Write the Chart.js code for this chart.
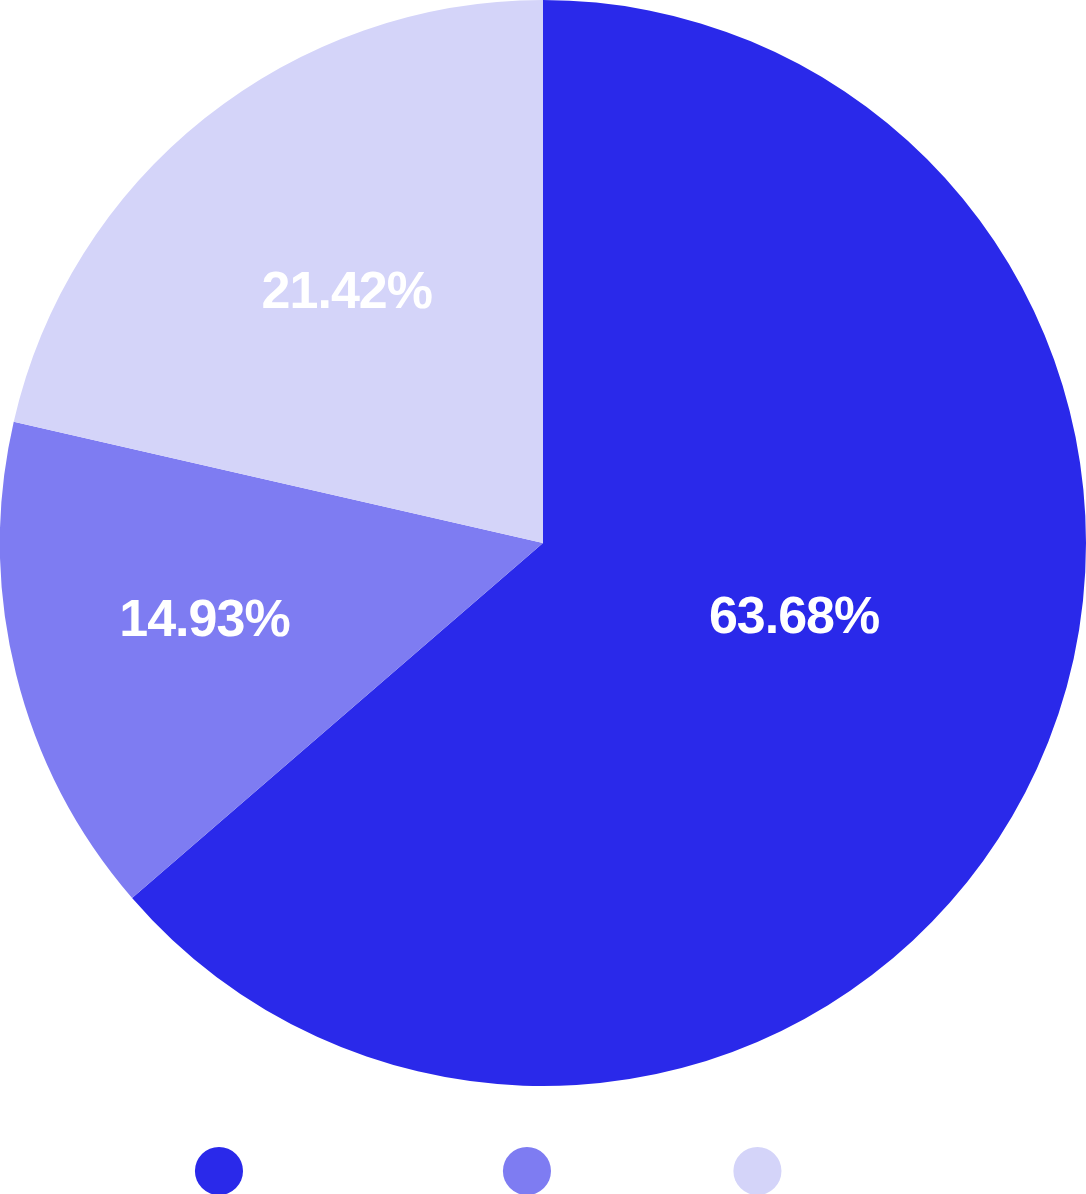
<!DOCTYPE html>
<html>
<head>
<meta charset="utf-8">
<script src="https://cdn.jsdelivr.net/npm/chart.js@4.4.1/dist/chart.umd.min.js"></script>
<style>
  html, body { margin: 0; padding: 0; background: #fff; }
  #wrap { width: 1086px; height: 1194px; }
</style>
</head>
<body>
<div id="wrap"><canvas id="my-chart"></canvas></div>
<script>
const categories = ['Direct online', 'Display', 'Social'];
const shares = [63.68, 14.93, 21.42];
const sliceColors = ['#2a29ea', '#7e7cf2', '#d4d4f9'];

// where each percentage sits inside its slice
const labelRadius = [0.483, 0.64, 0.585];
const labelAngleShift = [-7.8, 0.9, 0.4];

const sliceLabels = {
  id: 'sliceLabels',
  afterDatasetsDraw(chart) {
    const ctx = chart.ctx;
    const arcs = chart.getDatasetMeta(0).data;
    ctx.save();
    ctx.fillStyle = '#ffffff';
    ctx.font = 'bold 52px "Liberation Sans", Arial, sans-serif';
    ctx.letterSpacing = '-1px';
    ctx.textAlign = 'center';
    ctx.textBaseline = 'middle';
    arcs.forEach((arc, i) => {
      const p = arc.getProps(['x', 'y', 'startAngle', 'endAngle', 'outerRadius'], true);
      const mid = (p.startAngle + p.endAngle) / 2 + labelAngleShift[i] * Math.PI / 180;
      const r = p.outerRadius * labelRadius[i];
      ctx.fillText(shares[i].toFixed(2) + '%', p.x + Math.cos(mid) * r, p.y + Math.sin(mid) * r);
    });
    ctx.restore();
  }
};

const ctx = document.getElementById('my-chart').getContext('2d');
const chart = new Chart(ctx, {
  type: 'pie',
  data: {
    labels: categories,
    datasets: [{
      data: shares,
      backgroundColor: sliceColors,
      borderWidth: 0
    }]
  },
  options: {
    responsive: true,
    maintainAspectRatio: false,
    animation: false,
    layout: { padding: { bottom: -4 } },
    plugins: {
      tooltip: { enabled: false },
      legend: {
        position: 'bottom',
        labels: {
          usePointStyle: true,
          pointStyle: 'circle',
          boxHeight: 34,
          padding: 68,
          color: '#ffffff',
          font: { size: 34, family: '"Liberation Sans", Arial, sans-serif' }
        }
      }
    }
  },
  plugins: [sliceLabels]
});
</script>
</body>
</html>
